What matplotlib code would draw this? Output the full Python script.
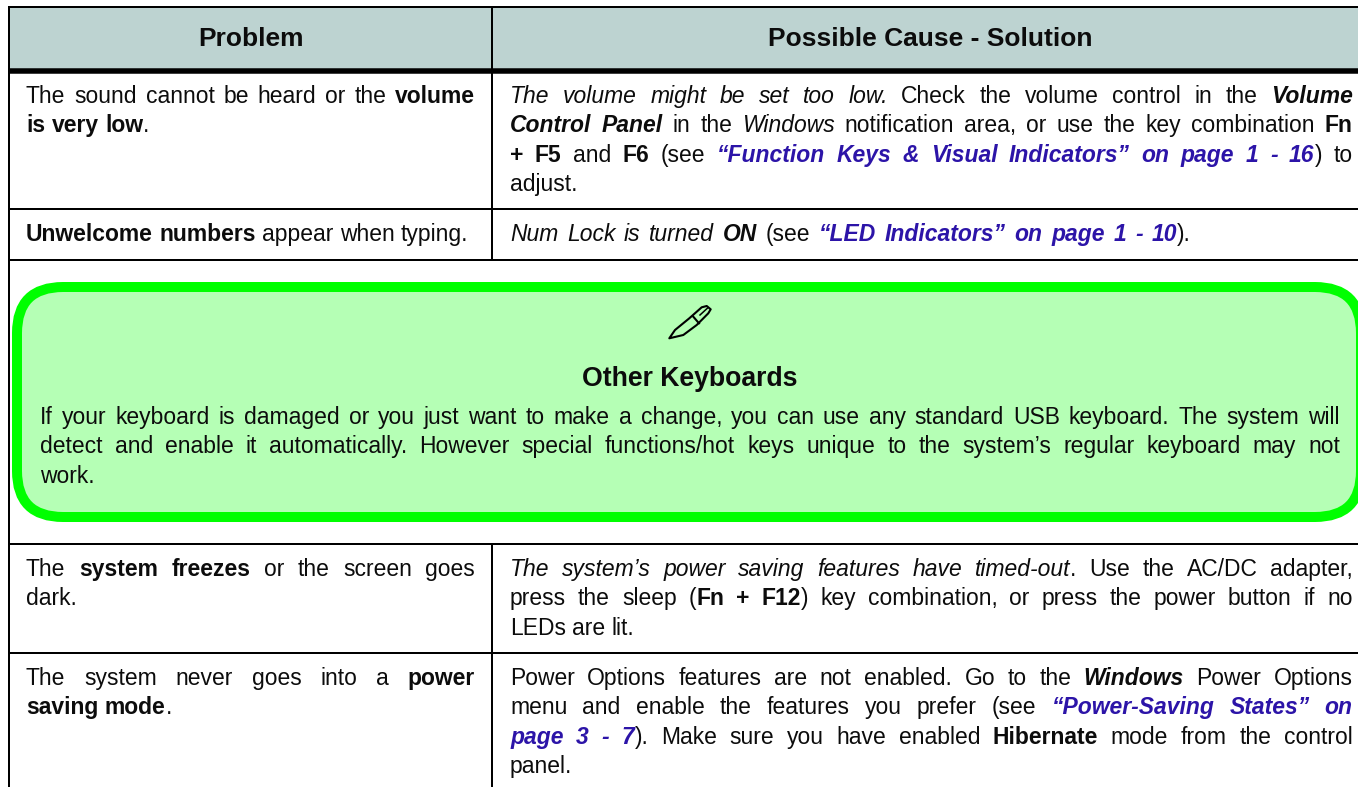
import re

import matplotlib
matplotlib.use('Agg')
import matplotlib.pyplot as plt
from matplotlib.font_manager import FontProperties
from matplotlib.patches import FancyBboxPatch, Polygon, Rectangle

headers = ['Problem', 'Possible Cause - Solution']

# markup: <b> bold, <i> italic, <bi> bold italic, <l> cross reference
problem_1 = ['The sound cannot be heard or the <b>volume</b>',
             '<b>is very low</b>.']
problem_2 = ['<b>Unwelcome numbers</b> appear when typing.']
problem_3 = ['The <b>system freezes</b> or the screen goes',
             'dark.']
problem_4 = ['The system never goes into a <b>power</b>',
             '<b>saving mode</b>.']

solution_1 = ['<i>The volume might be set too low.</i> Check the volume control in the <bi>Volume</bi>',
              '<bi>Control Panel</bi> in the <i>Windows</i> notification area, or use the key combination <b>Fn</b>',
              '<b>+ F5</b> and <b>F6</b> (see <l>“Function Keys & Visual Indicators” on page 1 - 16</l>) to',
              'adjust.']
solution_2 = ['<i>Num Lock is turned</i> <bi>ON</bi> (see <l>“LED Indicators” on page 1 - 10</l>).']
solution_3 = ['<i>The system’s power saving features have timed-out</i>. Use the AC/DC adapter,',
              'press the sleep (<b>Fn + F12</b>) key combination, or press the power button if no',
              'LEDs are lit.']
solution_4 = ['Power Options features are not enabled. Go to the <bi>Windows</bi> Power Options',
              'menu and enable the features you prefer (see <l>“Power-Saving States” on</l>',
              '<l>page 3 - 7</l>). Make sure you have enabled <b>Hibernate</b> mode from the control',
              'panel.']

note_title = 'Other Keyboards'
note_lines = ['If your keyboard is damaged or you just want to make a change, you can use any standard USB keyboard. The system will',
              'detect and enable it automatically. However special functions/hot keys unique to the system’s regular keyboard may not',
              'work.']

BODY = 16.5
HEAD = 19
INK = '#0c0c0c'
LINK = '#2c14a8'
STYLES = {'': ('normal', 'normal', INK),
          'b': ('bold', 'normal', INK),
          'i': ('normal', 'italic', INK),
          'bi': ('bold', 'italic', INK),
          'l': ('bold', 'italic', LINK)}

fig = plt.figure(figsize=(13.58, 7.87), dpi=100)
ax = fig.add_axes([0, 0, 1, 1])
ax.set_xlim(0, 1358)
ax.set_ylim(787, 0)
ax.axis('off')
renderer = fig.canvas.get_renderer()


def font(tag, size=BODY):
    weight, style, _ = STYLES[tag]
    return FontProperties(family='Liberation Sans', weight=weight, style=style, size=size)


def text_width(s, fp):
    return renderer.get_text_width_height_descent(s, fp, False)[0]


def draw_line(line, x0, x1, y, justify):
    # Split into fragments, keeping track of where the spaces were
    frags = []
    tags = re.findall(r'<(b|i|bi|l)>', line)
    for i, part in enumerate(re.split(r'<(b|i|bi|l)>(.*?)</\1>', line)):
        # re.split gives plain, tag, inner, plain, tag, inner...
        if i % 3 == 1:
            continue
        tag = tags[i // 3] if i % 3 == 2 else ''
        for j, word in enumerate(part.split(' ')):
            if j > 0:
                frags.append(None)
            if word:
                frags.append((word, tag))

    gaps = sum(f is None for f in frags)
    space = text_width('x x', font('')) - text_width('xx', font(''))
    words = [f for f in frags if f is not None]
    total = sum(text_width(w, font(t)) for w, t in words)
    if justify and gaps:
        space = (x1 - x0 - total) / gaps

    x = x0
    for f in frags:
        if f is None:
            x += space
            continue
        ax.text(x, y, f[0], fontproperties=font(f[1]), color=STYLES[f[1]][2], va='baseline', ha='left')
        x += text_width(f[0], font(f[1]))


def draw_cell(lines, x0, x1, y, step=29.3, fill_last=False):
    for i, line in enumerate(lines):
        draw_line(line, x0, x1, y + i * step, justify=fill_last or i < len(lines) - 1)


def hline(y, lw=2.0, x0=8, x1=1358):
    ax.plot([x0, x1], [y, y], color='black', lw=lw * 0.72, solid_capstyle='butt')


def vline(x, y0, y1, lw=2.0):
    ax.plot([x, x], [y0, y1], color='black', lw=lw * 0.72, solid_capstyle='butt')


# Header band and rules
ax.add_patch(Rectangle((9, 7), 1349, 62, facecolor='#bdd3d1', edgecolor='none'))
hline(7)
hline(71, lw=5.5)
hline(209)
hline(259.5)
hline(544)
hline(652.7)
vline(9.2, 6, 787)
vline(492, 6, 259.5)
vline(492, 544, 787)

ax.text(250.8, 45.7, headers[0], fontproperties=font('b', HEAD), color=INK, ha='center', va='baseline')
ax.text(930.7, 45.7, headers[1], fontproperties=font('b', HEAD), color=INK, ha='center', va='baseline')

# Green note box runs off the right edge
ax.add_patch(FancyBboxPatch((63, 333), 1252, 138, boxstyle='round,pad=46,rounding_size=46',
                            facecolor='#b5ffb5', edgecolor='#00ff00', lw=10 * 0.72))

# Pen icon
pen = [(669.3, 338.3), (683.3, 335), (696.7, 325), (708.3, 313.3), (710.7, 309.3),
       (706.7, 306), (701.7, 307.3), (689.3, 318.3), (675, 330)]
ax.add_patch(Polygon(pen, closed=True, facecolor='none', edgecolor='black', lw=1.5, joinstyle='round'))
ax.plot([693.3, 699], [316.7, 323.3], color='black', lw=1.5)
ax.plot([700, 707.3], [315, 308.3], color='black', lw=1.1)

ax.text(689.5, 385.7, note_title, fontproperties=font('b', 19.2), color=INK, ha='center', va='baseline')
draw_cell(note_lines, 40, 1340, 424)

draw_cell(problem_1, 26, 475, 103)
draw_cell(solution_1, 510, 1352.7, 103)
draw_cell(problem_2, 26, 475, 241)
draw_cell(solution_2, 510, 1190.7, 241, fill_last=True)
draw_cell(problem_3, 26, 475, 576)
draw_cell(solution_3, 510, 1352.7, 576)
draw_cell(problem_4, 26, 475, 685)
draw_cell(solution_4, 510, 1352.7, 685)

fig.savefig('out.png', dpi=100)
